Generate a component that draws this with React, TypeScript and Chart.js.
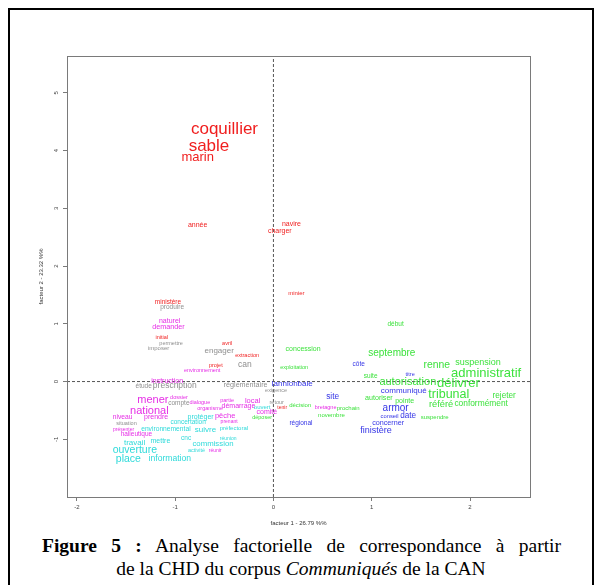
import React, { useEffect, useRef } from "react";
import { Chart, registerables } from "chart.js";

Chart.register(...registerables);

const FONT = "'Liberation Sans', Arial, Helvetica, sans-serif";

// axis limits and ticks
const X_MIN = -2.1;
const X_MAX = 2.61;
const Y_MIN = -2.0;
const Y_MAX = 5.64;
const xTicks = [-2, -1, 0, 1, 2];
const yTicks = [-1, 0, 1, 2, 3, 4, 5];

// Cluster 1 (red)
const redWords = ["coquillier", "sable", "marin", "année", "navire", "charger", "minier", "ministère", "initial", "avril", "extraction", "projet", "tenir"];
const redX = [-0.498, -0.656, -0.771, -0.771, 0.183, 0.065, 0.234, -1.073, -1.135, -0.471, -0.268, -0.586, 0.089];
const redY = [4.373, 4.083, 3.875, 2.704, 2.726, 2.61, 1.536, 1.38, 0.756, 0.664, 0.456, 0.282, -0.458];
const redWeight = [17, 17, 13, 7, 7, 7, 6, 6.5, 5.5, 5.5, 5.5, 5.5, 5];

// Cluster 2 (magenta)
const magWords = ["naturel", "demander", "environnement", "instruction", "dossier", "dialogue", "partie", "local", "organisme", "démarrage", "pêche", "prenant", "comité", "bretagne", "mener", "national", "niveau", "prendre", "présenter", "halieutique", "réunir"];
const magX = [-1.056, -1.068, -0.725, -1.081, -0.961, -0.749, -0.471, -0.212, -0.644, -0.356, -0.491, -0.451, -0.067, 0.531, -1.226, -1.262, -1.534, -1.193, -1.524, -1.394, -0.593];
const magY = [1.05, 0.941, 0.191, 0.017, -0.284, -0.364, -0.336, -0.336, -0.463, -0.428, -0.601, -0.693, -0.537, -0.445, -0.319, -0.503, -0.624, -0.614, -0.832, -0.919, -1.191];
const magWeight = [7, 7.2, 5.5, 7, 5.5, 5.5, 5.5, 7.5, 5.5, 7, 7.5, 5, 7, 5.5, 11, 11, 6.7, 7, 5, 6.5, 5];

// Cluster 3 (gray)
const grayWords = ["produire", "permettre", "imposer", "engager", "can", "étude", "prescription", "réglementaire", "exigence", "compte", "retour", "situation"];
const grayX = [-1.031, -1.041, -1.168, -0.552, -0.291, -1.32, -1.003, -0.283, 0.027, -0.962, 0.033, -1.495];
const grayY = [1.288, 0.652, 0.572, 0.525, 0.295, -0.076, -0.076, -0.052, -0.156, -0.371, -0.364, -0.728];
const grayWeight = [6.5, 5.5, 6, 8, 8.5, 6.5, 8.5, 7.2, 5.5, 6.5, 5.5, 5.5];

// Cluster 4 (cyan)
const cyanWords = ["ouvert", "protéger", "concertation", "environnemental", "suivre", "préfectoral", "cnc", "réunion", "commission", "activité", "travail", "mettre", "ouverture", "place", "information"];
const cyanX = [-0.115, -0.741, -0.868, -1.094, -0.692, -0.402, -0.888, -0.461, -0.615, -0.783, -1.412, -1.15, -1.41, -1.476, -1.054];
const cyanY = [-0.445, -0.614, -0.711, -0.821, -0.839, -0.815, -0.977, -0.995, -1.087, -1.191, -1.064, -1.035, -1.191, -1.341, -1.334];
const cyanWeight = [6, 7, 6.5, 6.7, 8, 6, 6.5, 5, 7.8, 5.5, 8, 7, 10.5, 10.5, 8.6];

// Cluster 5 (blue)
const blueWords = ["lannion", "baie", "côte", "titre", "communiqué", "site", "armor", "conseil", "date", "concerner", "finistère", "régional"];
const blueX = [0.115, 0.322, 0.867, 1.391, 1.325, 0.602, 1.243, 1.182, 1.37, 1.167, 1.043, 0.28];
const blueY = [-0.042, -0.042, 0.3, 0.127, -0.163, -0.267, -0.463, -0.596, -0.596, -0.718, -0.849, -0.723];
const blueWeight = [8, 8, 6.5, 5.5, 8, 8.3, 10, 5.8, 8.2, 7.2, 9, 6.5];

// Cluster 6 (green)
const greenWords = ["concession", "exploitation", "début", "septembre", "renne", "suspension", "suite", "administratif", "autorisation", "délivrer", "tribunal", "rejeter", "référé", "conformément", "autoriser", "pointe", "suspendre", "décision", "prochain", "novembre", "déposer"];
const greenX = [0.302, 0.211, 1.243, 1.204, 1.662, 2.082, 0.989, 2.164, 1.367, 1.882, 1.784, 2.347, 1.706, 2.113, 1.073, 1.335, 1.64, 0.272, 0.76, 0.59, -0.115];
const greenY = [0.555, 0.236, 0.998, 0.49, 0.282, 0.329, 0.092, 0.144, -0.012, -0.035, -0.232, -0.243, -0.388, -0.376, -0.289, -0.336, -0.614, -0.411, -0.458, -0.579, -0.624];
const greenWeight = [7, 5.5, 6.5, 10, 10.4, 9, 6.5, 13, 11, 13, 12.5, 8.2, 9.3, 8.4, 7.1, 7, 6, 6, 6, 6, 5.5];

const clusters = [
  { words: redWords, xs: redX, ys: redY, weights: redWeight, color: "#f01e1e" },
  { words: magWords, xs: magX, ys: magY, weights: magWeight, color: "#e62ee6" },
  { words: grayWords, xs: grayX, ys: grayY, weights: grayWeight, color: "#8f8f8f" },
  { words: cyanWords, xs: cyanX, ys: cyanY, weights: cyanWeight, color: "#2fdada" },
  { words: blueWords, xs: blueX, ys: blueY, weights: blueWeight, color: "#3535e6" },
  { words: greenWords, xs: greenX, ys: greenY, weights: greenWeight, color: "#3de23d" },
];

const wordPlugin = {
  id: "wordLabels",
  afterDatasetsDraw(chart: any) {
    const ctx = chart.ctx;
    chart.data.datasets.forEach((ds: any, i: number) => {
      if (!ds.words) return;
      const meta = chart.getDatasetMeta(i);
      meta.data.forEach((pt: any, j: number) => {
        ctx.save();
        ctx.font = `${ds.weights[j]}px ${FONT}`;
        ctx.fillStyle = ds.wordColor;
        ctx.textAlign = "center";
        ctx.textBaseline = "middle";
        ctx.fillText(ds.words[j], pt.x, pt.y);
        ctx.restore();
      });
    });
  },
};

const boxPlugin = {
  id: "plotBox",
  afterDraw(chart: any) {
    const { ctx, chartArea } = chart;
    ctx.save();
    ctx.strokeStyle = "#7a7a7a";
    ctx.lineWidth = 1;
    ctx.strokeRect(
      Math.round(chartArea.left) + 0.5,
      Math.round(chartArea.top) + 0.5,
      Math.round(chartArea.right - chartArea.left),
      Math.round(chartArea.bottom - chartArea.top)
    );
    ctx.restore();
  },
};

export default function App() {
  const ref = useRef<HTMLCanvasElement | null>(null);

  useEffect(() => {
    if (!ref.current) return;
    const datasets: any[] = [
      {
        data: [
          { x: X_MIN, y: 0 },
          { x: X_MAX, y: 0 },
        ],
        showLine: true,
        borderColor: "#555555",
        borderWidth: 1,
        borderDash: [3, 2],
        pointRadius: 0,
      },
      {
        data: [
          { x: 0, y: Y_MIN },
          { x: 0, y: Y_MAX },
        ],
        showLine: true,
        borderColor: "#555555",
        borderWidth: 1,
        borderDash: [3, 2],
        pointRadius: 0,
      },
      ...clusters.map((c) => ({
        data: c.xs.map((x, i) => ({ x, y: c.ys[i] })),
        words: c.words,
        weights: c.weights,
        wordColor: c.color,
        pointRadius: 0,
        showLine: false,
      })),
    ];

    const chart = new Chart(ref.current, {
      type: "scatter",
      data: { datasets },
      options: {
        animation: false,
        responsive: false,
        events: [],
        layout: { padding: { left: 0, top: 46, right: 62, bottom: 0 } },
        plugins: {
          legend: { display: false },
          tooltip: { enabled: false },
        },
        scales: {
          x: {
            type: "linear",
            min: X_MIN,
            max: X_MAX,
            afterBuildTicks: (s: any) => {
              s.ticks = xTicks.map((v) => ({ value: v }));
            },
            afterFit: (s: any) => {
              s.height = 37;
            },
            grid: { display: true, drawOnChartArea: false, drawTicks: true, tickLength: 4, color: "#7a7a7a" },
            border: { display: false },
            ticks: { font: { size: 6, family: FONT }, color: "#444", padding: 3, maxRotation: 0, autoSkip: false },
            title: {
              display: true,
              text: "facteur 1 - 26.79 %%",
              font: { size: 6, family: FONT },
              color: "#333",
              padding: { top: 0, bottom: 7.4 },
            },
          },
          y: {
            type: "linear",
            min: Y_MIN,
            max: Y_MAX,
            afterBuildTicks: (s: any) => {
              s.ticks = yTicks.map((v) => ({ value: v }));
            },
            afterFit: (s: any) => {
              s.width = 57;
            },
            grid: { display: true, drawOnChartArea: false, drawTicks: true, tickLength: 4, color: "#7a7a7a" },
            border: { display: false },
            ticks: {
              font: { size: 6, family: FONT },
              color: "#444",
              padding: 3.5,
              minRotation: 90,
              maxRotation: 90,
              crossAlign: "center",
              autoSkip: false,
            },
            title: {
              display: true,
              text: "facteur 2 - 23.32 %%",
              font: { size: 6, family: FONT },
              color: "#333",
              padding: { top: 27.4, bottom: 0 },
            },
          },
        },
      } as any,
      plugins: [wordPlugin, boxPlugin],
    });
    return () => chart.destroy();
  }, []);

  return (
    <div
      style={{
        width: 582,
        height: 580,
        border: "2px solid #000",
        boxSizing: "content-box",
        background: "#fff",
      }}
    >
      <canvas ref={ref} width={582} height={524} style={{ display: "block", width: 582, height: 524 }} />
      <div
        style={{
          fontFamily: "'Liberation Serif', 'Times New Roman', serif",
          fontSize: 19.5,
          lineHeight: "23px",
          color: "#000",
        }}
      >
        <div
          style={{
            marginLeft: 32,
            width: 519,
            textAlign: "justify",
            textAlignLast: "justify",
            whiteSpace: "normal",
          }}
        >
          <b>Figure 5 :</b> Analyse factorielle de correspondance à partir
        </div>
        <div style={{ textAlign: "center", whiteSpace: "nowrap" }}>
          de la CHD du corpus <i>Communiqués</i> de la CAN
        </div>
      </div>
    </div>
  );
}
